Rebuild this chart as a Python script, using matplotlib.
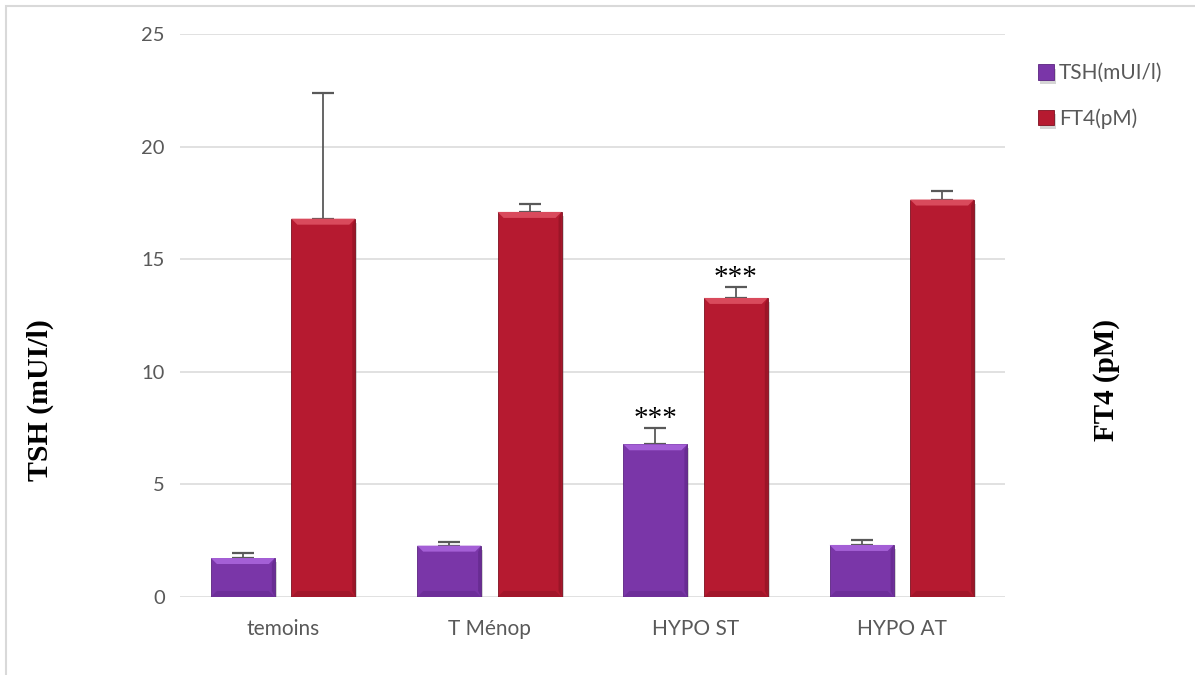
import matplotlib.pyplot as plt
import matplotlib.patheffects as pe
from matplotlib.patches import Polygon, Rectangle
import numpy as np

groups = ['temoins', 'T Ménop', 'HYPO ST', 'HYPO AT']
tsh = [1.73, 2.28, 6.78, 2.31]
tsh_err = [0.22, 0.16, 0.72, 0.20]
ft4 = [16.8, 17.1, 13.28, 17.65]
ft4_err = [5.6, 0.33, 0.50, 0.38]
signif_tsh = ['', '', '***', '']
signif_ft4 = ['', '', '***', '']

purple = '#7A36A8'
red = '#B61A30'
grey_txt = '#595959'
font = 'Lato'

fig = plt.figure(figsize=(11.95, 6.75), dpi=100)
ax = fig.add_axes([0.1506, 0.1156, 0.6904, 0.834])
ax2 = ax.twinx()

x = np.arange(len(groups))
w = 0.31
off = 0.195

shadow = [pe.SimplePatchShadow(offset=(1.5, -3), shadow_rgbFace='#888888', alpha=0.35), pe.Normal()]
b1 = ax.bar(x - off, tsh, w, color=purple, edgecolor='#5a2380', linewidth=0.6,
            zorder=3, path_effects=shadow)
b2 = ax2.bar(x + off, ft4, w, color=red, edgecolor='#7d0f1f', linewidth=0.6,
             zorder=3, path_effects=shadow)
ax.errorbar(x - off, tsh, yerr=[np.zeros(len(tsh)), tsh_err], fmt='none',
            ecolor=grey_txt, elinewidth=1.3, capsize=8, capthick=1.6, zorder=2)
ax2.errorbar(x + off, ft4, yerr=[np.zeros(len(ft4)), ft4_err], fmt='none',
             ecolor=grey_txt, elinewidth=1.3, capsize=8, capthick=1.6, zorder=2)

for a in (ax, ax2):
    a.set_ylim(0, 25)
    a.set_xlim(-0.5, 3.5)
    for s in a.spines.values():
        s.set_visible(False)

# bevel highlights on each bar
fig.canvas.draw()
def bevel(a, bars, light, dark):
    inv = a.transData.inverted()
    p0 = inv.transform((0, 0))
    p1 = inv.transform((6, 6))
    dx, dy = p1 - p0
    for r in bars:
        x0, y0 = r.get_x(), r.get_y()
        x1, y1 = x0 + r.get_width(), y0 + r.get_height()
        d = min(dy, (y1 - y0) / 2)
        a.add_patch(Polygon([(x0, y1), (x1, y1), (x1 - dx, y1 - d), (x0 + dx, y1 - d)],
                            closed=True, color=light, lw=0, zorder=4))
        a.add_patch(Polygon([(x1, y1), (x1, y0), (x1 - dx * 0.5, y0 + d), (x1 - dx * 0.5, y1 - d)],
                            closed=True, color=dark, lw=0, alpha=0.35, zorder=4))
        a.add_patch(Polygon([(x0, y0), (x1, y0), (x1 - dx, y0 + d), (x0 + dx, y0 + d)],
                            closed=True, color=dark, lw=0, alpha=0.25, zorder=4))

bevel(ax, b1, '#A45FD6', '#4a1a6e')
bevel(ax2, b2, '#D94A5C', '#6a0c19')

ax.set_yticks(np.arange(0, 26, 5))
ax.yaxis.grid(True, color='#D9D9D9', linewidth=1.1, zorder=0)
ax.set_axisbelow(True)
ax.tick_params(axis='y', length=0, pad=11, labelsize=14.5, labelcolor=grey_txt)
ax.set_xticks(x)
ax.set_xticklabels(groups)
ax.tick_params(axis='x', length=0, pad=16, labelsize=15, labelcolor=grey_txt)
for lbl in ax.get_xticklabels() + ax.get_yticklabels():
    lbl.set_fontfamily(font)
ax2.set_yticks([])
ax2.set_zorder(ax.get_zorder() + 1)
ax2.patch.set_visible(False)

# significance stars above the error caps
for i in range(len(groups)):
    if signif_tsh[i]:
        ax.text(x[i] - off, tsh[i] + tsh_err[i] + 0.4, signif_tsh[i], ha='center',
                va='center', fontsize=21, family='Liberation Serif')
    if signif_ft4[i]:
        ax2.text(x[i] + off, ft4[i] + ft4_err[i] + 0.4, signif_ft4[i], ha='center',
                 va='center', fontsize=21, family='Liberation Serif')

fig.text(40 / 1195, 1 - 400 / 675, 'TSH (mUI/l)', rotation=90, ha='center', va='center',
         fontsize=21.5, fontweight='bold', family='Liberation Serif')
fig.text(1106 / 1195, 1 - 380 / 675, 'FT4 (pM)', rotation=90, ha='center', va='center',
         fontsize=21, fontweight='bold', family='Liberation Serif')

leg = fig.legend([b1, b2], ['TSH(mUI/l)', 'FT4(pM)'], loc='upper left',
                 bbox_to_anchor=(1030 / 1195, 1 - 55 / 675), frameon=False,
                 handlelength=0.75, handleheight=0.75, handletextpad=0.25,
                 labelspacing=1.2, borderaxespad=0, prop={'family': font, 'size': 15})
for t in leg.get_texts():
    t.set_color(grey_txt)

# outer frame
fig.patches.append(Rectangle((6 / 1195, -0.01), 1.02, 1 - 6 / 675 + 0.01,
                             transform=fig.transFigure, fill=False,
                             edgecolor='#D9D9D9', linewidth=1.5))

fig.savefig('out.png', dpi=100)
